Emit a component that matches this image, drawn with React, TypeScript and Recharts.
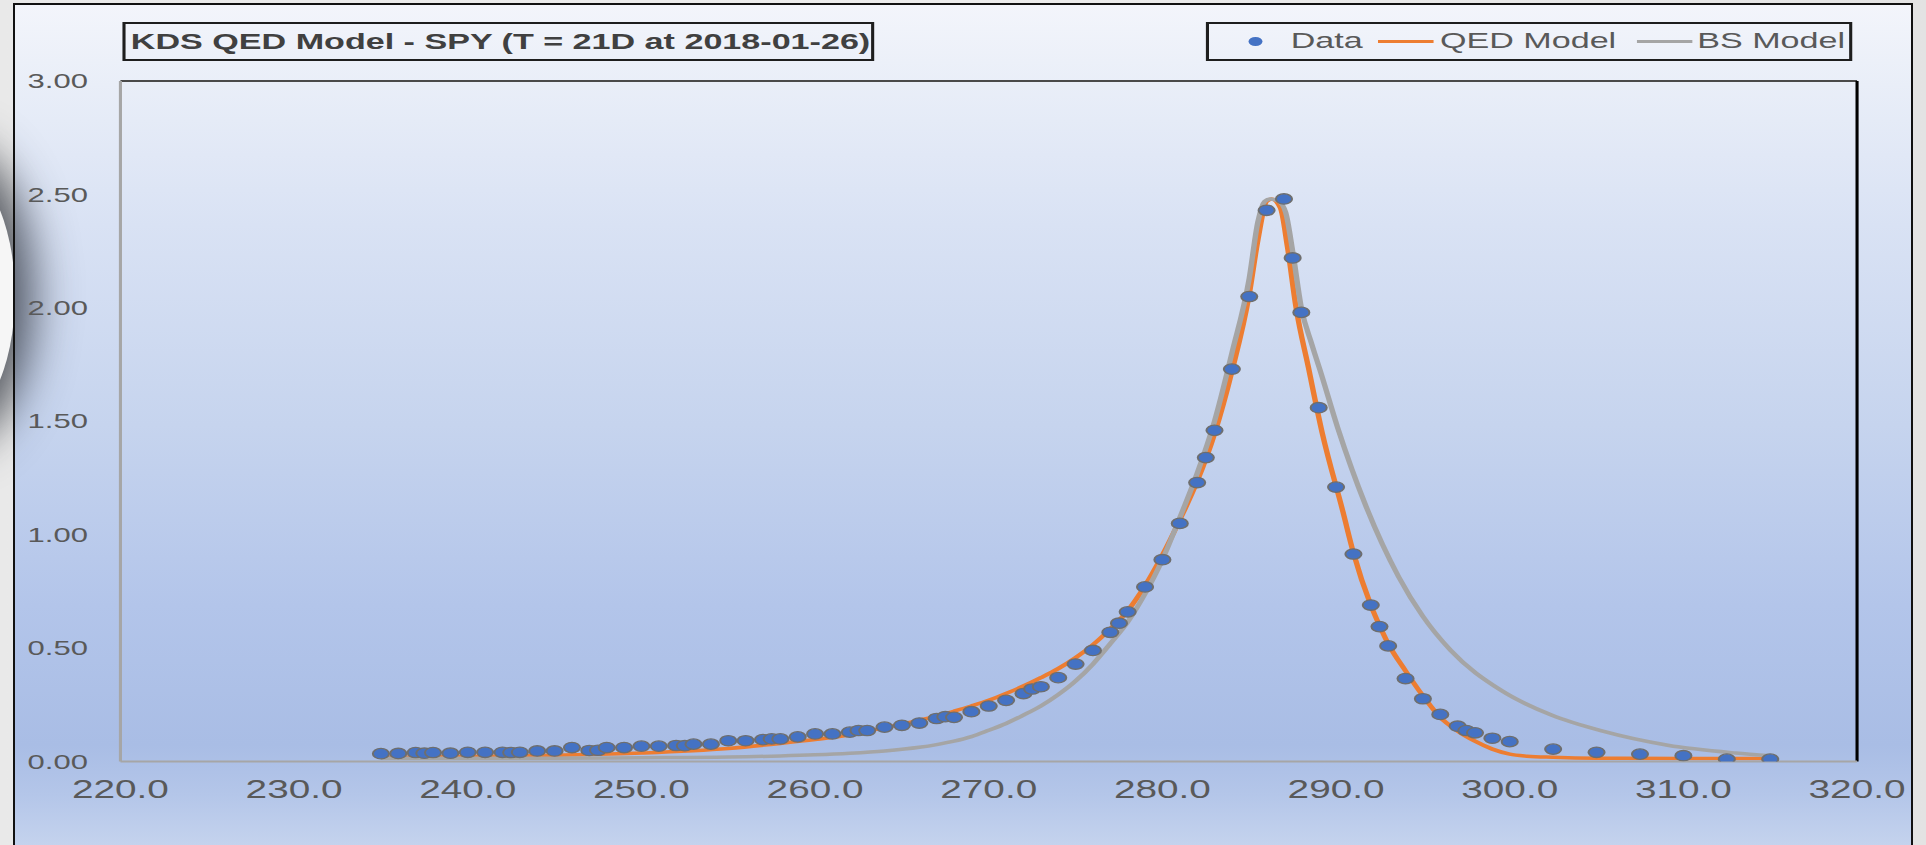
import React from 'react';
import { ComposedChart, Scatter, Line, XAxis, YAxis, ReferenceLine } from 'recharts';

// ---------- data ----------
const dataStrikes = [
  235, 236, 237, 237.5, 238, 239, 240, 241, 242, 242.5, 243, 244, 245, 246, 247, 247.5, 248, 249,
  250, 251, 252, 252.5, 253, 254, 255, 256, 257, 257.5, 258, 259, 260, 261, 262, 262.5, 263, 264,
  265, 266, 267, 267.5, 268, 269, 270, 271, 272, 272.5, 273, 274, 275, 276, 277, 277.5, 278, 279,
  280, 281, 282, 282.5, 283, 284, 285, 286, 287, 287.5, 288, 289, 290, 291, 292, 292.5, 293, 294,
  295, 296, 297, 297.5, 298, 299, 300, 302.5, 305, 307.5, 310, 312.5, 315,
];
const dataValues = [
  0.035, 0.036, 0.04, 0.037, 0.04, 0.037, 0.041, 0.041, 0.041, 0.04, 0.041, 0.047, 0.047, 0.062, 0.049, 0.05, 0.062, 0.062,
  0.068, 0.068, 0.071, 0.07, 0.077, 0.077, 0.092, 0.092, 0.097, 0.1, 0.1, 0.109, 0.122, 0.122, 0.13, 0.137, 0.137, 0.152,
  0.16, 0.17, 0.19, 0.198, 0.195, 0.22, 0.245, 0.27, 0.3, 0.32, 0.33, 0.37, 0.43, 0.49, 0.57, 0.61, 0.66, 0.77,
  0.89, 1.05, 1.23, 1.34, 1.46, 1.73, 2.05, 2.43, 2.48, 2.22, 1.98, 1.56, 1.21, 0.915, 0.69, 0.595, 0.51, 0.366,
  0.277, 0.208, 0.156, 0.137, 0.127, 0.103, 0.088, 0.055, 0.041, 0.033, 0.026, 0.011, 0.011,
];

const qedStrikes = [
  235, 240, 245, 250, 255, 258, 260, 262, 264, 265, 266, 267, 268, 269, 270, 271, 272, 273, 274, 275,
  276, 277, 278, 279, 280, 281, 282, 283, 284, 285, 285.5, 286, 286.3, 286.8, 287.2, 287.7, 288.4, 289.2,
  290.4, 291, 292, 292.5, 293, 294, 295, 296, 297, 298, 299, 300, 301, 302.5, 305, 310, 315,
];
const qedValues = [
  0.018, 0.022, 0.028, 0.038, 0.058, 0.08, 0.097, 0.118, 0.15, 0.165, 0.183, 0.2, 0.222, 0.245, 0.27, 0.3, 0.333, 0.37, 0.41, 0.458,
  0.515, 0.585, 0.665, 0.775, 0.91, 1.065, 1.235, 1.445, 1.72, 2.06, 2.3, 2.47, 2.48, 2.44, 2.27, 2.0, 1.74, 1.45,
  1.1, 0.92, 0.69, 0.6, 0.52, 0.4, 0.29, 0.195, 0.135, 0.09, 0.055, 0.033, 0.024, 0.019, 0.015, 0.014, 0.014,
];

const bsStrikes = [
  235, 245, 250, 255, 258, 260, 262, 264, 266, 267, 268, 269, 270, 271, 272, 273, 274, 275, 276, 277,
  278, 279, 280, 281, 282, 283, 284, 285, 285.5, 285.9, 286.2, 286.7, 287.1, 287.5, 288, 288.6, 289.1,
  290.1, 291.7, 293.6, 295, 296.6, 299.5, 302.4, 305.3, 309.1, 313, 315,
];
const bsValues = [
  0.015, 0.015, 0.017, 0.02, 0.025, 0.03, 0.037, 0.047, 0.063, 0.075, 0.09, 0.11, 0.138, 0.168, 0.205, 0.245, 0.295, 0.355, 0.43, 0.52,
  0.615, 0.74, 0.89, 1.075, 1.27, 1.5, 1.8, 2.13, 2.38, 2.47, 2.48, 2.47, 2.42, 2.25, 2.0, 1.84, 1.72,
  1.47, 1.13, 0.815, 0.64, 0.49, 0.314, 0.205, 0.135, 0.072, 0.038, 0.026,
];

const xTicks = [220, 230, 240, 250, 260, 270, 280, 290, 300, 310, 320];
const yTicks = [0, 0.5, 1, 1.5, 2, 2.5, 3];
const titleText = 'KDS QED Model - SPY (T = 21D at 2018-01-26)';
const seriesNames = ['Data', 'QED Model', 'BS Model'];
const seriesColors = ['#4472c4', '#ed7d31', '#a5a5a5'];

const toPoints = (xs: number[], ys: number[]) => xs.map((x, i) => ({ x, y: ys[i] }));
const dataPts = toPoints(dataStrikes, dataValues);
const qedPts = toPoints(qedStrikes, qedValues);
const bsPts = toPoints(bsStrikes, bsValues);

// ---------- layout ----------
const SX = 1.55; // horizontal stretch of the reference picture
const FULL_W = 1926;
const FULL_H = 845;
const W = FULL_W / SX;
const FONT = "'Liberation Sans', Arial, sans-serif";
const TEXT = '#595959';

const PLOT_LEFT = 77.7;
const PLOT_RIGHT = 1198.1;
const PLOT_TOP = 81;
const PLOT_BOTTOM = 761.6;
const X_AXIS_H = 50;

const DataDot = (props: any) => (
  <ellipse cx={props.cx} cy={props.cy} rx={5.2} ry={5.2} fill={seriesColors[0]} stroke="#6e6e6e" strokeWidth={1.3} />
);

const Legend = () => {
  const items = [
    { name: seriesNames[0], kind: 'dot', color: seriesColors[0], sw: 30.4, tx: 52.7 },
    { name: seriesNames[1], kind: 'line', color: seriesColors[1], sw: 109, tx: 149 },
    { name: seriesNames[2], kind: 'line', color: seriesColors[2], sw: 276, tx: 315 },
  ];
  return (
    <div
      style={{
        position: 'absolute', left: 778, top: 22, width: 417, height: 39, boxSizing: 'border-box',
        border: '2px solid #1e1e1e', fontFamily: FONT, fontSize: 22, color: TEXT,
      }}
    >
      {items.map((it) => (
        <React.Fragment key={it.name}>
          <svg style={{ position: 'absolute', left: it.kind === 'dot' ? it.sw - 6 : it.sw, top: 0 }} width={it.kind === 'dot' ? 12 : 36} height={35}>
            {it.kind === 'dot' ? (
              <circle cx={6} cy={17.5} r={4.5} fill={it.color} />
            ) : (
              <line x1={0} x2={36} y1={17.5} y2={17.5} stroke={it.color} strokeWidth={3} />
            )}
          </svg>
          <span style={{ position: 'absolute', left: it.tx, top: 4, lineHeight: '25px', whiteSpace: 'nowrap' }}>{it.name}</span>
        </React.Fragment>
      ))}
    </div>
  );
};

export default function App() {
  return (
    <div style={{ position: 'fixed', left: 0, top: 0, width: FULL_W, height: FULL_H, overflow: 'hidden', background: 'linear-gradient(to right, #e9e9e9, #ececec 50%, #e3e3e3)' }}>
      {/* chart frame background */}
      <div
        style={{
          position: 'absolute', left: 15, top: 5, width: 1896, height: 900,
          background: 'linear-gradient(to bottom, #f3f5fb 0px, #e9eef8 80px, #d9e2f4 220px, #c6d4ee 420px, #b3c5ea 600px, #a9bde5 740px, #b4c6e9 790px, #c6d4ee 845px)',
        }}
      />
      {/* shadow blob on the left edge */}
      <div
        style={{
          position: 'absolute', left: -120, top: 160, width: 135, height: 270, borderRadius: '50%',
          background: '#f6f6f6', boxShadow: '0 0 45px 18px rgba(45,50,60,0.8)',
        }}
      />
      {/* stretched chart layer */}
      <div style={{ position: 'absolute', left: 0, top: 0, width: W, height: FULL_H, transform: `scaleX(${SX})`, transformOrigin: '0 0' }}>
        <div
          style={{
            position: 'absolute', left: 79.4, top: 22, width: 485, height: 39, boxSizing: 'border-box',
            border: '2px solid #1e1e1e', fontFamily: FONT, fontWeight: 'bold', fontSize: 22, color: '#404040',
            lineHeight: '35px', paddingLeft: 3, whiteSpace: 'nowrap',
          }}
        >
          {titleText}
        </div>
        <Legend />
        <div style={{ position: 'absolute', left: 0, top: 0 }}>
          <ComposedChart
            width={W}
            height={FULL_H}
            margin={{ top: PLOT_TOP, right: W - PLOT_RIGHT, bottom: FULL_H - PLOT_BOTTOM - X_AXIS_H, left: 0 }}
          >
            <XAxis
              type="number"
              dataKey="x"
              domain={[220, 320]}
              ticks={xTicks}
              tickFormatter={(v: number) => v.toFixed(1)}
              height={X_AXIS_H}
              tickSize={0}
              tickMargin={19}
              axisLine={{ stroke: '#a6a6a6', strokeWidth: 2 }}
              tick={{ fill: TEXT, fontSize: 25, fontFamily: FONT }}
              allowDataOverflow
            />
            <YAxis
              type="number"
              dataKey="y"
              domain={[0, 3]}
              ticks={yTicks}
              tickFormatter={(v: number) => v.toFixed(2)}
              width={PLOT_LEFT}
              tickSize={0}
              tickMargin={21}
              axisLine={{ stroke: '#a6a6a6', strokeWidth: 2 }}
              tick={{ fill: TEXT, fontSize: 20, fontFamily: FONT }}
              allowDataOverflow
            />
            <ReferenceLine y={3} stroke="#4a4a4a" strokeWidth={2} />
            <ReferenceLine x={320} stroke="#000000" strokeWidth={2} />
            <Scatter name={seriesNames[0]} data={dataPts} shape={DataDot} isAnimationActive={false} />
            <Line name={seriesNames[1]} data={qedPts} dataKey="y" type="monotone" stroke={seriesColors[1]} strokeWidth={3.5} dot={false} activeDot={false} isAnimationActive={false} />
            <Line name={seriesNames[2]} data={bsPts} dataKey="y" type="monotone" stroke={seriesColors[2]} strokeWidth={3.5} dot={false} activeDot={false} isAnimationActive={false} />
          </ComposedChart>
        </div>
      </div>
      {/* frame border on top */}
      <div style={{ position: 'absolute', left: 13, top: 3, width: 1900, height: 900, boxSizing: 'border-box', border: '2px solid #111', pointerEvents: 'none' }} />
    </div>
  );
}
